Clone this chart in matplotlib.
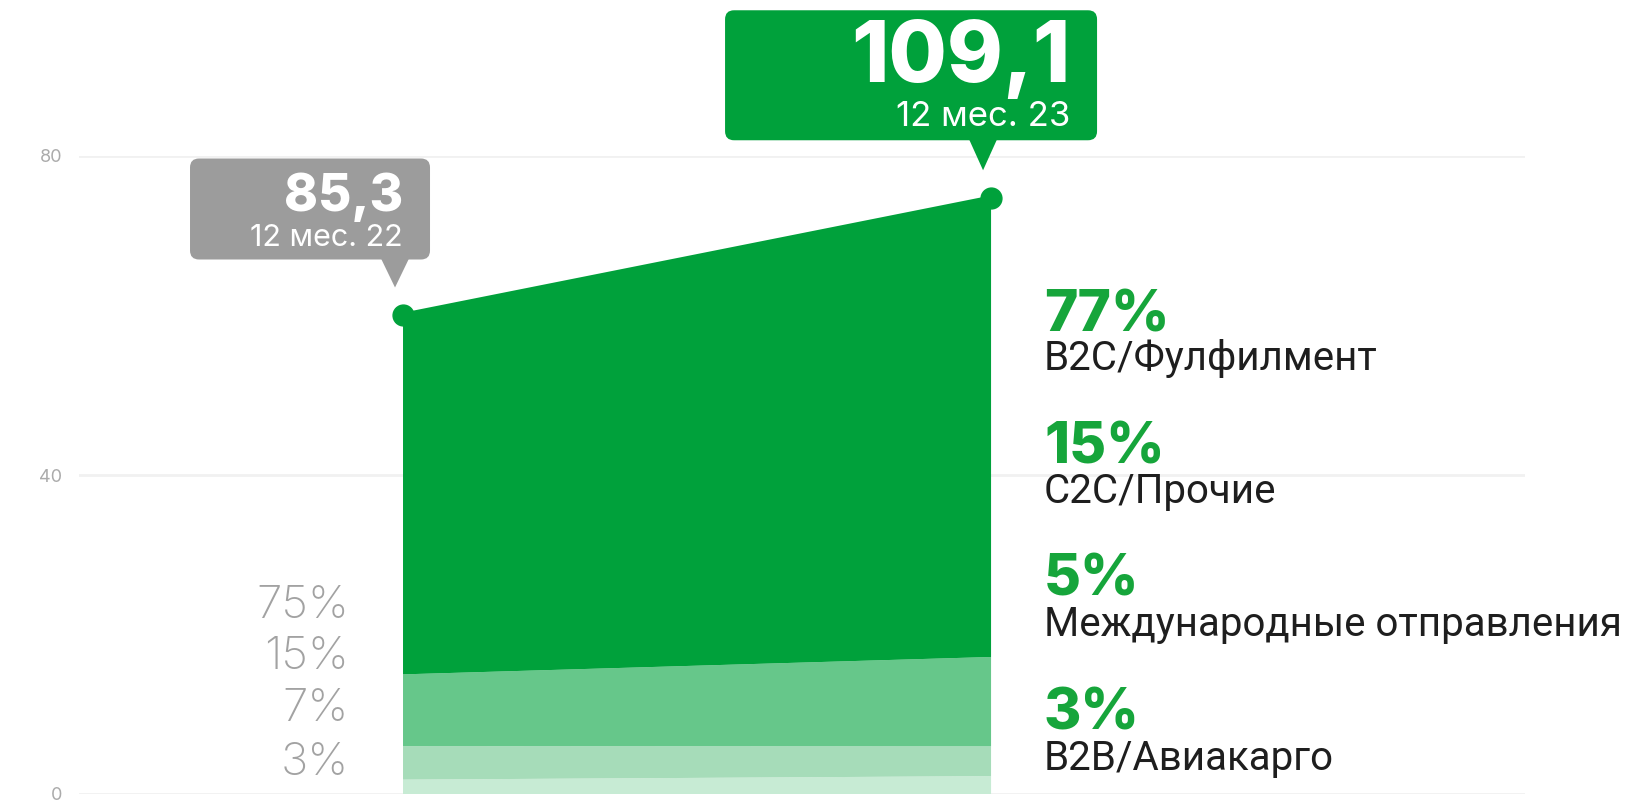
import numpy as np
import matplotlib.pyplot as plt
from matplotlib.patches import FancyBboxPatch, Polygon
from matplotlib.transforms import IdentityTransform

# data
periods = ["12 мес. 22", "12 мес. 23"]
totals_label = ["85,3", "109,1"]
plot_height = [60.0, 74.7]          # height on the drawn axis
shares_22 = [3, 7, 15, 75]           # bottom -> top
shares_23 = [3, 5, 15, 77]
segments = ["B2B/Авиакарго", "Международные отправления", "C2C/Прочие", "B2C/Фулфилмент"]
yticks = [0, 40, 80]

band_colors = ["#c7ebd4", "#a6dcb9", "#66c78a", "#00a13b"]
green = "#00a13b"
gray_box = "#9c9c9c"

W, H = 1649, 807
fig = plt.figure(figsize=(W / 100, H / 100), dpi=100)
ax = fig.add_axes([79 / W, 13 / H, 1446 / W, 638 / H])
ax.set_xlim(-0.551, 1.908)
ax.set_ylim(0, 80)

x = np.array([0, 1])
layers = [[plot_height[0] * a / 100, plot_height[1] * b / 100] for a, b in zip(shares_22, shares_23)]
ax.stackplot(x, *layers, colors=band_colors, linewidth=0, zorder=2)
ax.plot(x, plot_height, color=green, lw=4, marker="o", ms=15, zorder=3, clip_on=False)

ax.set_yticks(yticks)
ax.set_xticks([])
ax.grid(axis="y", color="#f1f1f1", lw=2, zorder=0)
ax.tick_params(axis="y", length=0, pad=12, labelsize=13, labelcolor="#ababab")
for s in ax.spines.values():
    s.set_visible(False)
for t in ax.get_yticklabels():
    t.set_fontfamily("Inter")

fig.canvas.draw()


def callout(xi, yi, big, small, color, left, right, top, bottom, txt_right, big_y, small_y, big_fs, small_fs):
    px, py = ax.transData.transform((xi, yi))
    box = FancyBboxPatch((px + left, py + bottom), right - left, top - bottom,
                         boxstyle="round,pad=0,rounding_size=9", fc=color, ec="none",
                         transform=IdentityTransform(), zorder=5)
    fig.add_artist(box)
    tip = Polygon([[px - 22, py + bottom + 1], [px + 6, py + bottom + 1], [px - 8, py + 28]],
                  closed=True, fc=color, ec="none", transform=IdentityTransform(), zorder=5)
    fig.add_artist(tip)
    fig.text((px + txt_right) / W, (py + big_y) / H, big, color="white", fontsize=big_fs,
             fontweight="heavy", ha="right", va="baseline", family="Inter", zorder=6)
    fig.text((px + txt_right) / W, (py + small_y) / H, small, color="white", fontsize=small_fs,
             ha="right", va="baseline", family="Inter", zorder=6)


callout(0, plot_height[0], totals_label[0], periods[0], gray_box,
        -213, 27, 157, 56, 0, 105, 70, 37, 22)
callout(1, plot_height[1], totals_label[1], periods[1], green,
        -266, 106, 188, 58, 79, 116, 72, 61, 25)

# left shares (2022)
left_y = [618, 669, 721, 775]
for s, yy in zip(shares_22[::-1], left_y):
    fig.text(349 / W, 1 - yy / H, f"{s}%", color="#a2a2a2", fontsize=33, ha="right",
             va="baseline", family="Inter", fontweight="light")

# right legend (2023)
pct_y = [331, 463, 595, 729]
lab_y = [370, 503, 636, 770]
for s, name, py_, ly in zip(shares_23[::-1], segments[::-1], pct_y, lab_y):
    fig.text(1044 / W, 1 - py_ / H, f"{s}%", color="#16a53b", fontsize=41, fontweight="heavy",
             ha="left", va="baseline", family="Inter")
    fig.text(1044 / W, 1 - ly / H, name, color="#1e1e1e", fontsize=29, ha="left",
             va="baseline", family="Roboto")

fig.savefig("out.png", dpi=100)
